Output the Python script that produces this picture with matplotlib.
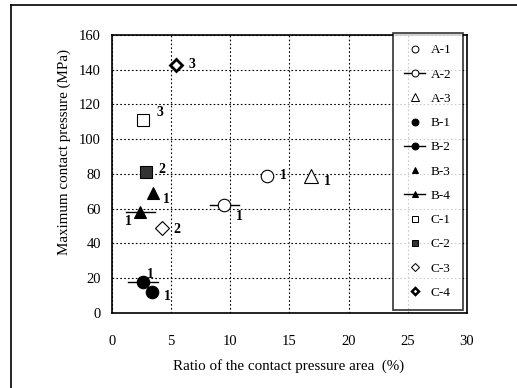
import matplotlib
matplotlib.use("Agg")
import matplotlib.pyplot as plt
from matplotlib.lines import Line2D

# data
series_names = ["A-1", "A-2", "A-3", "B-1", "B-2", "B-3", "B-4", "C-1", "C-2", "C-3", "C-4"]
x_vals = [13.1, 9.5, 16.8, 3.4, 2.6, 3.5, 2.4, 2.6, 2.9, 4.2, 5.4]
y_vals = [79, 62, 79, 12, 18, 69, 58, 111, 81, 49, 143]
x_spread = [0, 1.25, 0, 0, 1.25, 0, 1.2, 0, 0, 0, 0]
point_labels = ["1", "1", "1", "1", "1", "1", "1", "3", "2", "2", "3"]

# marker styles
markers = ["o", "o", "^", "o", "o", "^", "^", "s", "s", "D", "D"]
faces = ["white", "white", "white", "black", "black", "black", "black", "white", "#333333", "white", "white"]
sizes = [9, 9, 9.5, 9, 9, 8.5, 8.5, 9, 8, 7, 6.5]
edge_w = [0.8, 0.8, 0.8, 0.8, 0.8, 0.8, 0.8, 0.8, 0.8, 0.8, 2.0]
label_offsets = [(16, 0), (15, -11), (17, -6), (15, -4), (8, 7), (13, -6),
                 (-12, -9), (17, 8), (16, 3), (15, -2), (16, 0)]

plt.rcParams["font.family"] = ["Liberation Serif", "DejaVu Serif"]

fig = plt.figure(figsize=(5.17, 3.88), dpi=100)
ax = fig.add_axes([0.2166, 0.1933, 0.9033 - 0.2166, 0.9098 - 0.1933])

handles = []
for i, name in enumerate(series_names):
    if x_spread[i] > 0:
        ax.plot([x_vals[i] - x_spread[i], x_vals[i] + x_spread[i]], [y_vals[i], y_vals[i]],
                color="black", lw=1.0, zorder=3)
    ax.plot(x_vals[i], y_vals[i], linestyle="none", marker=markers[i], ms=sizes[i],
            mfc=faces[i], mec="black", mew=edge_w[i], zorder=4)
    ax.annotate(point_labels[i], (x_vals[i], y_vals[i]), xytext=label_offsets[i],
                textcoords="offset pixels", ha="center", va="center",
                fontsize=10, fontweight="bold")
    handles.append(Line2D([], [], color="black", lw=1.0,
                          linestyle="-" if x_spread[i] > 0 else "none",
                          marker=markers[i], ms=sizes[i] * 0.55, mfc=faces[i],
                          mec="black", mew=edge_w[i] * 0.9, label=name))

ax.set_xlim(0, 30)
ax.set_ylim(0, 160)
ax.set_xticks(range(0, 31, 5))
ax.set_yticks(range(0, 161, 20))
ax.grid(True, color="black", linestyle=(0, (1.5, 2)), lw=0.8)
ax.tick_params(length=0, labelsize=10.5)
ax.tick_params(axis="x", pad=16)
ax.tick_params(axis="y", pad=8)
for s in ax.spines.values():
    s.set_linewidth(1.2)

ax.set_xlabel("Ratio of the contact pressure area  (%)", fontsize=10.8)
ax.set_ylabel("Maximum contact pressure (MPa)", fontsize=10.8)
ax.xaxis.set_label_coords(0.497, -0.165)
ax.yaxis.set_label_coords(-0.115, 0.58)

leg = fig.legend(handles=handles, loc="upper left", bbox_to_anchor=(393 / 517, 1 - 33 / 388),
                 frameon=True, fancybox=False, shadow=False, fontsize=9.5,
                 handlelength=1.6, handletextpad=0.4, labelspacing=0.91,
                 borderpad=0.85, borderaxespad=0, edgecolor="black")
leg.get_frame().set_linewidth(1.2)

# outer frame of the scanned figure (top and left edges only)
fig.add_artist(Line2D([11 / 517, 1], [1 - 5 / 388, 1 - 5 / 388], color="black", lw=1.2,
                      transform=fig.transFigure))
fig.add_artist(Line2D([11 / 517, 11 / 517], [0, 1 - 5 / 388], color="black", lw=1.2,
                      transform=fig.transFigure))

fig.savefig("out.png", dpi=100)
